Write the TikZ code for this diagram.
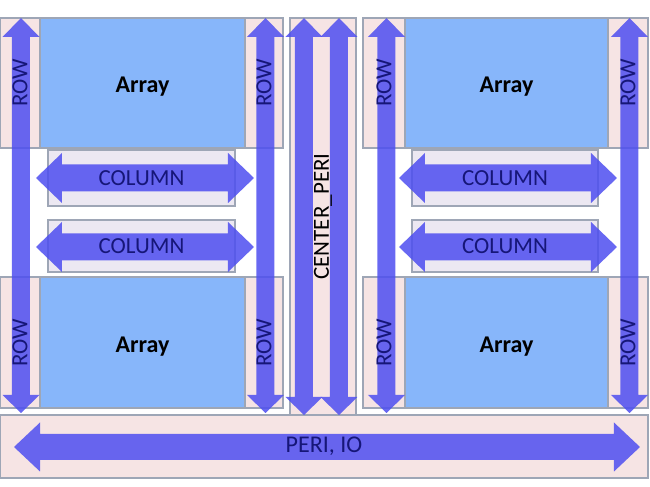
\documentclass[tikz,border=0pt]{standalone}
\usepackage{fontspec}
\setsansfont{Carlito}
\usetikzlibrary{positioning,fit,calc}
\definecolor{peripink}{RGB}{246,228,228}
\definecolor{arrayblue}{RGB}{135,182,250}
\definecolor{collav}{RGB}{236,232,242}
\definecolor{edgegray}{RGB}{158,166,182}
\definecolor{busblue}{RGB}{78,78,240}
\definecolor{labelnavy}{RGB}{22,22,120}
\tikzset{
  pbox/.style={draw=edgegray, line width=0.8pt, fill=peripink, inner sep=0pt},
  abox/.style={draw=edgegray, line width=0.8pt, fill=arrayblue, inner sep=0pt},
  cbox/.style={draw=edgegray, line width=0.8pt, fill=collav, inner sep=0pt},
  bus/.style={fill=busblue, fill opacity=0.85},
  alabel/.style={font=\sffamily\bfseries\fontsize{12}{14}\selectfont, inner sep=0pt, yshift=-2pt},
  blabel/.style={font=\sffamily\fontsize{11.5}{13}\selectfont, text=labelnavy, inner sep=0pt},
  rlabel/.style={blabel, rotate=90}
}
% double block arrows, coordinates in pixels
\newcommand{\vbus}[3]{% centre x, top y, bottom y
  \fill[bus] (#1,#2) -- ({#1+18.5},{#2+19}) -- ({#1+9},{#2+19}) -- ({#1+9},{#3-18}) -- ({#1+18.5},{#3-18}) -- (#1,#3)
    -- ({#1-18.5},{#3-18}) -- ({#1-9},{#3-18}) -- ({#1-9},{#2+19}) -- ({#1-18.5},{#2+19}) -- cycle;}
\newcommand{\hbus}[5]{% left x, right x, centre y, shaft half, head half
  \fill[bus] (#1,#3) -- ({#1+26},{#3-#5}) -- ({#1+26},{#3-#4}) -- ({#2-26},{#3-#4}) -- ({#2-26},{#3-#5}) -- (#2,#3)
    -- ({#2-26},{#3+#5}) -- ({#2-26},{#3+#4}) -- ({#1+26},{#3+#4}) -- ({#1+26},{#3+#5}) -- cycle;}

\begin{document}
\begin{tikzpicture}[x=0.5pt,y=-0.5pt]
\useasboundingbox (0,0) rectangle (650,487);

% left half
\node[pbox, fit={(0,18) (40,148)}] (rowa) {};
\node[pbox, fit={(245,18) (283,148)}] (rowb) {};
\node[pbox, fit={(0,277) (40,408)}] (rowc) {};
\node[pbox, fit={(245,277) (283,408)}] (rowd) {};
\node[abox, fit={(40,18) (245,148)}] (arra) {};
\node[abox, fit={(40,277) (245,408)}] (arrb) {};
\node[cbox, fit={(48,150) (235,206)}] (cola) {};
\node[cbox, fit={(48,220) (235,272)}] (colb) {};

% right half
\node[pbox, fit={(363,18) (405,148)}] (rowe) {};
\node[pbox, fit={(608,18) (648,148)}] (rowf) {};
\node[pbox, fit={(363,277) (405,408)}] (rowg) {};
\node[pbox, fit={(608,277) (648,408)}] (rowh) {};
\node[abox, fit={(405,18) (608,148)}] (arrc) {};
\node[abox, fit={(405,277) (608,408)}] (arrd) {};
\node[cbox, fit={(412,150) (598,206)}] (colc) {};
\node[cbox, fit={(412,220) (598,272)}] (cold) {};

% centre and bottom periphery
\node[pbox, fit={(290,18) (356,415)}] (cperi) {};
\node[pbox, fit={(0,415) (648,478)}] (peri) {};

% buses
\vbus{21}{18}{413}
\vbus{265.5}{18}{413}
\vbus{304}{18}{415}
\vbus{339}{18}{415}
\vbus{386.5}{18}{413}
\vbus{629.5}{18}{413}
\hbus{36}{254}{178}{13.5}{25}
\hbus{36}{254}{247}{13.5}{25}
\hbus{399}{617}{178}{13.5}{25}
\hbus{399}{617}{247}{13.5}{25}
\hbus{14}{640}{447}{13}{24.5}

% labels
\foreach \a in {arra,arrb,arrc,arrd}
  \node[alabel] at (\a.center) {Array};
\foreach \r in {rowa,rowb,rowc,rowd,rowe,rowf,rowg,rowh}
  \node[rlabel] at (\r.center) {ROW};
\foreach \c in {cola,colb,colc,cold}
  \node[blabel] at (\c.center) {COLUMN};
\node[rlabel, text=black] at (cperi.center) {CENTER\_PERI};
\node[blabel, font=\sffamily\fontsize{12}{14}\selectfont] at (peri.center) {PERI, IO};
\end{tikzpicture}
\end{document}
